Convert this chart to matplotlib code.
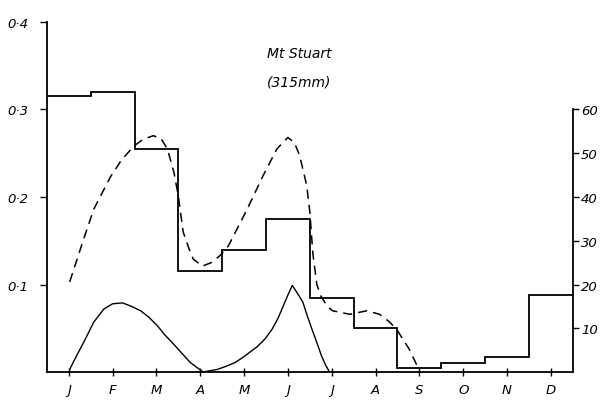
import numpy as np
import matplotlib.pyplot as plt

months = ['J', 'F', 'M', 'A', 'M', 'J', 'J', 'A', 'S', 'O', 'N', 'D']
# monthly rainfall (mm), right axis
rain_mm = [63, 64, 51, 23, 28, 35, 17, 10, 1, 2, 3.5, 17.5]

# dashed curve (left axis)
dash_x = [0.02, 0.34, 0.57, 0.95, 1.2, 1.48, 1.7, 1.93, 2.1, 2.25, 2.4, 2.5, 2.61,
          2.75, 2.84, 3.05, 3.25, 3.45, 3.64, 4.07, 4.43, 4.75, 5.0, 5.15, 5.27,
          5.43, 5.5, 5.57, 5.66, 5.75, 5.9, 6.02, 6.41, 6.8, 7.09, 7.3, 7.48, 7.77, 7.95]
dash_y = [0.103, 0.152, 0.186, 0.223, 0.242, 0.258, 0.266, 0.270, 0.267, 0.255, 0.228,
          0.201, 0.160, 0.140, 0.129, 0.121, 0.125, 0.133, 0.144, 0.186, 0.224, 0.255,
          0.268, 0.262, 0.247, 0.213, 0.183, 0.135, 0.100, 0.087, 0.075, 0.070, 0.066,
          0.070, 0.066, 0.058, 0.049, 0.026, 0.007]

# solid curve (left axis)
sol_x = [0.02, 0.16, 0.34, 0.57, 0.8, 1.0, 1.23, 1.43, 1.64, 1.82, 2.02, 2.2, 2.39,
         2.57, 2.77, 2.93, 3.07, 3.16, 3.39, 3.61, 3.8, 3.98, 4.14, 4.3, 4.48, 4.64,
         4.77, 4.89, 5.0, 5.1, 5.23, 5.34, 5.45, 5.57, 5.68, 5.77, 5.86, 5.95]
sol_y = [0.003, 0.017, 0.034, 0.057, 0.072, 0.078, 0.079, 0.075, 0.070, 0.063, 0.053,
         0.042, 0.032, 0.022, 0.011, 0.005, 0.0, 0.001, 0.003, 0.007, 0.011, 0.017,
         0.023, 0.029, 0.038, 0.049, 0.061, 0.075, 0.088, 0.099, 0.089, 0.080, 0.063,
         0.046, 0.031, 0.018, 0.008, 0.0]

left_ticks = [0.1, 0.2, 0.3, 0.4]
left_labels = ['0·1', '0·2', '0·3', '0·4']
right_ticks = [10, 20, 30, 40, 50, 60]

fig = plt.figure(figsize=(6.01, 4.02), dpi=100)
ax = fig.add_axes([0.078, 0.072, 0.875, 0.871])
ax2 = ax.twinx()

edges = np.arange(len(months) + 1) - 0.5
ax2.stairs(rain_mm, edges, baseline=None, color='black', lw=1.3)
ax.plot(dash_x, dash_y, color='black', lw=1.1, dashes=(6, 4))
ax.plot(sol_x, sol_y, color='black', lw=1.0)

ax.set_xlim(-0.5, 11.5)
ax.set_ylim(0, 0.4)
ax2.set_ylim(0, 80)

for a in (ax, ax2):
    a.spines['top'].set_visible(False)
ax.spines['right'].set_visible(False)
ax2.spines['left'].set_visible(False)
ax2.spines['bottom'].set_visible(False)
ax2.spines['right'].set_bounds(0, 60)
for s in ['left', 'bottom']:
    ax.spines[s].set_linewidth(1.3)
ax2.spines['right'].set_linewidth(1.3)

tfont = dict(fontsize=9.5, fontstyle='italic')
ax.set_xticks(range(len(months)))
ax.set_xticklabels(months, **tfont)
ax.set_yticks(left_ticks)
ax.set_yticklabels(left_labels, **tfont)
ax2.set_yticks(right_ticks)
ax2.set_yticklabels([str(t) for t in right_ticks], **tfont)
ax.tick_params(axis='x', direction='inout', length=6, width=1, pad=5)
ax.tick_params(axis='y', direction='out', length=5, width=1, pad=8)
ax2.tick_params(axis='y', direction='out', length=4, width=1, pad=2)

ax.text(0.48, 0.91, 'Mt Stuart', transform=ax.transAxes, ha='center', va='center',
        fontsize=10, fontstyle='italic')
ax.text(0.48, 0.83, '(315mm)', transform=ax.transAxes, ha='center', va='center',
        fontsize=10, fontstyle='italic')

fig.savefig('out.png', dpi=100)
